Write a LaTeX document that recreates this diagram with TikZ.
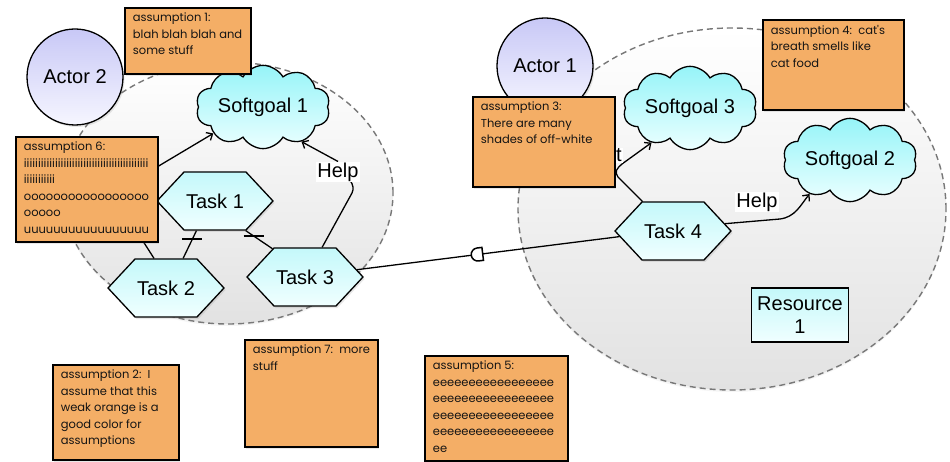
\documentclass[tikz,border=0pt]{standalone}
\usepackage{fontspec}
\setmainfont{Liberation Sans}
\newfontfamily\notefont{Poppins}
\usetikzlibrary{shapes.geometric,shapes.symbols,arrows.meta,shadows,calc}
\pgfdeclarelayer{bgl}
\pgfdeclarelayer{lnk}
\pgfdeclarelayer{top}
\pgfsetlayers{bgl,lnk,main,top}

\definecolor{noteorange}{RGB}{244,174,102}
\definecolor{actortop}{RGB}{200,200,246}
\definecolor{actorbot}{RGB}{246,246,255}
\definecolor{tasktop}{RGB}{196,248,250}
\definecolor{taskbot}{RGB}{240,255,255}
\definecolor{cloudtop}{RGB}{150,244,248}
\definecolor{cloudbot}{RGB}{235,255,255}
\definecolor{bndline}{RGB}{120,120,120}
\definecolor{bndbot}{RGB}{226,226,226}

% body of an assumption note: fixed width and height, text at the top
\newcommand\asmbody[3]{\parbox[t][#2][t]{#1}{\raggedright #3}}

\tikzset{
  big/.style={font=\fontsize{20}{24}\selectfont},
  softshadow/.style={drop shadow={shadow xshift=1.5pt, shadow yshift=-2pt, opacity=0.18}},
  boundary/.style={ellipse, draw=bndline, line width=1.4pt, dash pattern=on 6pt off 4pt,
    top color=white, bottom color=bndbot, inner sep=0pt,
    drop shadow={shadow xshift=0pt, shadow yshift=-2pt, opacity=0.08}},
  actor/.style={circle, draw=black, line width=1.3pt, top color=actortop, bottom color=actorbot,
    minimum size=96pt, inner sep=0pt, big, softshadow},
  task/.style={signal, signal to=east and west, signal pointer angle=94, draw=black, line width=1.3pt,
    top color=tasktop, bottom color=taskbot, minimum width=116pt, minimum height=58pt,
    inner sep=0pt, big, softshadow},
  softgoal/.style={cloud, cloud puffs=10, cloud puff arc=120, aspect=2, draw=black, line width=1.3pt,
    top color=cloudtop, bottom color=cloudbot, minimum width=134pt, minimum height=76pt,
    inner sep=0pt, big},
  resource/.style={rectangle, draw=black, line width=1.5pt, top color=tasktop, bottom color=taskbot,
    minimum width=97pt, minimum height=54pt, inner sep=0pt, align=center,
    font=\fontsize{20}{23}\selectfont},
  note/.style={rectangle, draw=black, line width=1.8pt, fill=noteorange, anchor=north west,
    inner xsep=8pt, inner ysep=5pt, text=black!92,
    font=\notefont\fontsize{11.5}{16.5}\selectfont, softshadow},
  link/.style={draw=black, line width=1.3pt},
  arr/.style={link, -{Straight Barb[length=5pt,width=9pt,line width=1.3pt]}},
  lbl/.style={fill=white, inner sep=1pt, big},
}

\begin{document}
\begin{tikzpicture}[x=1pt, y=-1pt]
\useasboundingbox (0,0) rectangle (950,462);

% actor boundaries
\begin{pgfonlayer}{bgl}
  \fill[white] (0,0) rectangle (950,462);
  \node[boundary, minimum width=330pt, minimum height=262pt] (bleft) at (228,193) {};
  \node[boundary, minimum width=428pt, minimum height=362pt] (bright) at (732,209) {};
\end{pgfonlayer}

% actors
\node[actor] (act2) at (75,77) {Actor 2};
\node[actor] (act1) at (545,66) {Actor 1};

% intentional elements
\node[softgoal] (sg1) at (263,107) {Softgoal 1};
\node[softgoal] (sg3) at (690,108) {Softgoal 3};
\node[softgoal] (sg2) at (850,160) {Softgoal 2};
\node[task] (t1) at (215,201) {Task 1};
\node[task] (t2) at (166,288) {Task 2};
\node[task] (t3) at (305,277) {Task 3};
\node[task] (t4) at (673,231) {Task 4};
\node[resource] (r1) at (800,315) {Resource\\1};

% link labels
\node[lbl] (h1) at (338,172) {Help};
\node[lbl] (h2) at (757,202) {Help};
\node[lbl, anchor=base west] (tl) at (615,162) {t};

% links
\begin{pgfonlayer}{lnk}
  \draw[arr] (t2.112) -- (141,238) -- (157,167) -- (sg1.208);
  \draw[link] (t1.238) -- coordinate[pos=0.3] (k1) (t2.60);
  \draw[link] ($(k1)+(-10,0)$) -- ($(k1)+(10,0)$);
  \draw[link] (t1.316) -- coordinate[pos=0.3] (k2) (t3.139);
  \draw[link] ($(k2)+(-10,0)$) -- ($(k2)+(10,0)$);
  \draw[link] (t3.60) -- (352,193) .. controls (356,185) and (348,175) .. (h1.center);
  \draw[arr] (h1.north) -- (sg1.318);
  \draw[link] (t3.8) -- coordinate[pos=0.46] (dm) (t4.186);
  \draw[link, line width=1.5pt, fill=white, shift={(dm)}, rotate=7]
    (5,-6.5) -- (0,-6.5) arc[start angle=270, end angle=90, radius=6.5] -- (5,6.5) -- cycle;
  \draw[arr] (t4.136) -- (618,177) .. controls (614,172) and (617,168) .. (622,164) -- (sg3.222);
  \draw[arr] (t4.8) -- (780,219) .. controls (795,217) and (800,206) .. (sg2.220);
\end{pgfonlayer}

% assumption notes
\begin{pgfonlayer}{top}
  \node[note] (a1) at (124,7) {\asmbody{110pt}{56pt}{assumption 1:\\blah blah blah and\\some stuff}};
  \node[note] (a6) at (15,136) {\asmbody{126pt}{95pt}{assumption 6:\\iiiiiiiiiiiiiiiiiiiiiiiiiiiiiiiiiiiiiiiiiiii\\iiiiiiiiiii\\ooooooooooooooooo\\ooooo\\uuuuuuuuuuuuuuuuu}};
  \node[note] (a3) at (472,96) {\asmbody{126pt}{80pt}{assumption 3:\\There are many\\shades of off-white}};
  \node[note] (a4) at (762,19) {\asmbody{125pt}{80pt}{\mbox{assumption 4:~~cat's}\\breath smells like\\cat food}};
  \node[note] (a2) at (52,364) {\asmbody{110pt}{85pt}{\mbox{assumption 2:~~I}\\assume that this\\weak orange is a\\good color for\\assumptions}};
  \node[note] (a7) at (244,339) {\asmbody{117pt}{97pt}{\mbox{assumption 7:~~more}\\stuff}};
  \node[note] (a5) at (424,355) {\asmbody{127pt}{95pt}{assumption 5:\\eeeeeeeeeeeeeeeee\\eeeeeeeeeeeeeeeee\\eeeeeeeeeeeeeeeee\\eeeeeeeeeeeeeeeee\\ee}};
\end{pgfonlayer}
\end{tikzpicture}
\end{document}
